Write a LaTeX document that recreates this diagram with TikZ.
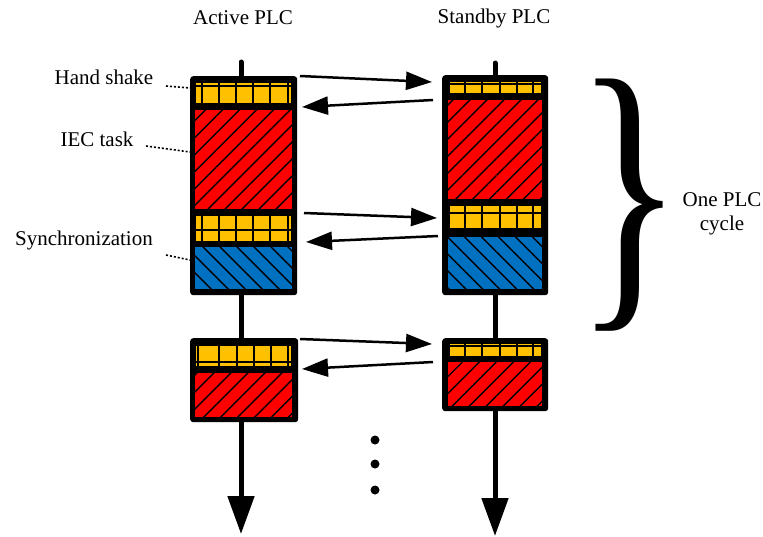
\documentclass[tikz,border=0pt]{standalone}
\usepackage{fontspec}
\setmainfont{Liberation Serif}
\usepackage{graphicx}
\usetikzlibrary{arrows.meta,patterns.meta}

\definecolor{hsyellow}{RGB}{255,192,0}
\definecolor{syncblue}{RGB}{0,112,192}

% yellow hand shake strip: left, top, right, bottom, split line, column lines
\newcommand{\hshake}[6]{%
  \fill[hsyellow] (#1,#2) rectangle (#3,#4);
  \draw[line width=1.3pt] (#1,#2) rectangle (#3,#4);
  \draw[line width=1.3pt] (#1,#5) -- (#3,#5);
  \foreach \vx in {#6} \draw[line width=1.3pt] (\vx,#2) -- (\vx,#4);
}

\tikzset{
  frame/.style={fill=black, rounded corners=3pt, inner sep=0pt, anchor=north west},
  iec/.style={fill=red, postaction={pattern={Lines[angle=45,distance=12pt,line width=1.4pt]}, pattern color=black}},
  sync/.style={fill=syncblue, postaction={pattern={Lines[angle=-45,distance=12pt,line width=1.4pt]}, pattern color=black}},
  msg/.style={line width=2.5pt, -{Triangle[length=26pt,width=18pt]}},
  stem/.style={line width=5pt, line cap=round},
  lead/.style={dash pattern=on 2pt off 2pt, line width=1.6pt},
  lbl/.style={font=\fontsize{21}{24}\selectfont}
}

\begin{document}
\begin{tikzpicture}[x=1pt,y=-1pt]
\useasboundingbox (0,0) rectangle (763,536);

% Titles
\node[lbl] (tact) at (243,18) {Active PLC};
\node[lbl] (tstb) at (494,18) {Standby PLC};

% Stems
\coordinate (atop) at (241,62);
\coordinate (stop) at (495,63);
\coordinate (aend) at (241,534);
\coordinate (send) at (495,536);
\draw[stem] (atop) -- (241,80);
\draw[stem] (stop) -- (495,80);
\draw[stem] (241,290) -- (241,345);
\draw[stem] (495,290) -- (495,345);
\draw[line width=5pt, -{Triangle[length=38pt,width=26pt]}] (241,415) -- (aend);
\draw[line width=5pt, -{Triangle[length=38pt,width=26pt]}] (495,405) -- (send);

% Active PLC, first cycle
\node[frame, minimum width=107pt, minimum height=219pt] (act1) at (190,76) {};
\hshake{195}{82}{292}{104}{86}{202,219,236,253,270,288}
\path[iec] (195,110) rectangle (292,209);
\hshake{195}{215}{292}{242}{230}{202,219,236,253,270,288}
\path[sync] (195,247) rectangle (292,289);

% Active PLC, next cycle
\node[frame, minimum width=108pt, minimum height=84pt] (act2) at (190,338) {};
\hshake{195}{345}{292}{367}{362}{198,219,237,254,271,288}
\path[iec] (195,373) rectangle (292,417);

% Standby PLC, first cycle
\node[frame, minimum width=106pt, minimum height=220pt] (stb1) at (442,75) {};
\hshake{449}{81}{542}{94}{84}{465,482,500,517,533}
\path[iec] (448,100) rectangle (542,199);
\hshake{449}{205}{542}{229}{213}{465,482,500,517,533}
\path[sync] (448,237) rectangle (542,289);

% Standby PLC, next cycle
\node[frame, minimum width=106pt, minimum height=73pt] (stb2) at (442,338) {};
\hshake{449}{343}{542}{357}{346}{465,482,500,517,533}
\path[iec] (448,362) rectangle (542,406);

% Messages between the PLCs
\coordinate (a1) at (300,76);  \coordinate (s1) at (432,82);
\coordinate (s2) at (433,100); \coordinate (a2) at (302,107);
\coordinate (a3) at (304,213); \coordinate (s3) at (437,218);
\coordinate (s4) at (438,236); \coordinate (a4) at (306,242);
\coordinate (a5) at (300,339); \coordinate (s5) at (432,344);
\coordinate (s6) at (433,362); \coordinate (a6) at (302,369);
\draw[msg] (a1) -- (s1);
\draw[msg] (s2) -- (a2);
\draw[msg] (a3) -- (s3);
\draw[msg] (s4) -- (a4);
\draw[msg] (a5) -- (s5);
\draw[msg] (s6) -- (a6);

% Labels on the left
\node[lbl] (lhs) at (104,77) {Hand shake};
\node[lbl] (liec) at (97,139) {IEC task};
\node[lbl] (lsync) at (84,240) {Synchronization};
\draw[lead] (166,86) -- (190,88);
\draw[lead] (146,146) -- (190,152);
\draw[lead] (166,255) -- (190,260);

% Continuation dots
\fill (375,440) circle[radius=4.5pt];
\fill (375,464) circle[radius=4.5pt];
\fill (375,490) circle[radius=4.5pt];

% Cycle brace
\node[inner sep=0pt] (brace) at (630,205) {\resizebox*{108pt}{252pt}{\}}};
\node[lbl, align=center] (cyc) at (722,214) {One PLC\\cycle};
\end{tikzpicture}
\end{document}
